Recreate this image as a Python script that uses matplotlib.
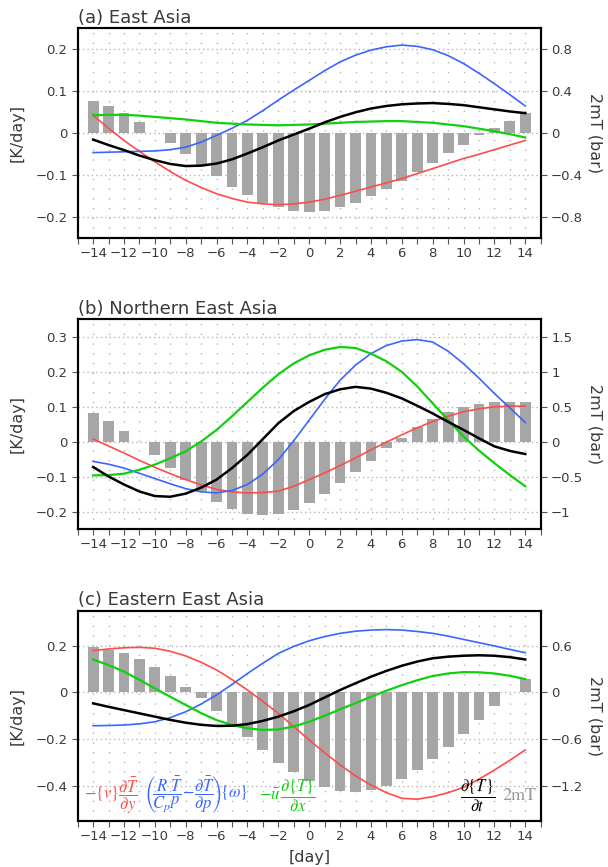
import numpy as np
import matplotlib
matplotlib.use("Agg")
import matplotlib.pyplot as plt
from matplotlib.ticker import MultipleLocator

plt.rcParams['font.family'] = ['DejaVu Sans']
plt.rcParams['mathtext.fontset'] = 'stix'

days = np.arange(-14, 15)

# ---------------- (a) East Asia ----------------
bars_a = [0.31, 0.26, 0.19, 0.105, 0.003, -0.09, -0.20, -0.31, -0.41, -0.51, -0.59, -0.66, -0.70, -0.74,
          -0.75, -0.74, -0.70, -0.66, -0.60, -0.535, -0.45, -0.37, -0.28, -0.19, -0.11, -0.02, 0.05, 0.12, 0.195]
red_a = [0.043, 0.012, -0.017, -0.043, -0.068, -0.091, -0.112, -0.129, -0.144, -0.155, -0.164, -0.168, -0.170, -0.168,
         -0.164, -0.157, -0.148, -0.138, -0.128, -0.118, -0.108, -0.096, -0.084, -0.072, -0.060, -0.050, -0.039, -0.028, -0.017]
blue_a = [-0.046, -0.045, -0.044, -0.043, -0.042, -0.039, -0.033, -0.021, -0.005, 0.012, 0.031, 0.054, 0.079, 0.103,
          0.126, 0.149, 0.170, 0.186, 0.198, 0.206, 0.210, 0.207, 0.199, 0.185, 0.166, 0.143, 0.118, 0.092, 0.065]
black_a = [-0.015, -0.028, -0.040, -0.053, -0.064, -0.073, -0.078, -0.077, -0.072, -0.062, -0.048, -0.033, -0.017, -0.003,
           0.011, 0.026, 0.039, 0.050, 0.059, 0.065, 0.069, 0.071, 0.072, 0.070, 0.067, 0.062, 0.057, 0.052, 0.048]
green_a = [0.043, 0.044, 0.044, 0.042, 0.039, 0.036, 0.033, 0.029, 0.025, 0.023, 0.021, 0.020, 0.019, 0.020,
           0.021, 0.023, 0.025, 0.027, 0.028, 0.029, 0.029, 0.027, 0.025, 0.021, 0.017, 0.011, 0.005, -0.002, -0.010]

# ---------------- (b) Northern East Asia ----------------
bars_b = [0.41, 0.30, 0.155, -0.01, -0.185, -0.375, -0.55, -0.705, -0.855, -0.955, -1.025, -1.05, -1.035, -0.975,
          -0.87, -0.75, -0.595, -0.425, -0.27, -0.09, 0.06, 0.21, 0.33, 0.42, 0.50, 0.535, 0.57, 0.57, 0.575]
red_b = [0.008, -0.012, -0.032, -0.053, -0.073, -0.091, -0.108, -0.123, -0.136, -0.143, -0.146, -0.145, -0.141, -0.127,
         -0.108, -0.089, -0.068, -0.046, -0.023, -0.001, 0.020, 0.040, 0.058, 0.073, 0.086, 0.094, 0.100, 0.102, 0.102]
blue_b = [-0.056, -0.064, -0.075, -0.090, -0.105, -0.120, -0.134, -0.143, -0.146, -0.139, -0.122, -0.092, -0.051, 0.003,
          0.062, 0.121, 0.176, 0.219, 0.252, 0.275, 0.288, 0.292, 0.285, 0.259, 0.223, 0.182, 0.138, 0.097, 0.055]
black_b = [-0.072, -0.099, -0.122, -0.142, -0.155, -0.157, -0.148, -0.131, -0.108, -0.075, -0.037, 0.008, 0.053, 0.088,
           0.114, 0.136, 0.150, 0.157, 0.152, 0.140, 0.124, 0.103, 0.081, 0.057, 0.034, 0.010, -0.013, -0.026, -0.035]
green_b = [-0.096, -0.095, -0.091, -0.080, -0.065, -0.047, -0.027, 0.001, 0.034, 0.073, 0.114, 0.155, 0.193, 0.224,
           0.247, 0.263, 0.271, 0.268, 0.252, 0.230, 0.200, 0.158, 0.110, 0.062, 0.015, -0.025, -0.061, -0.095, -0.127]

# ---------------- (c) Eastern East Asia ----------------
bars_c = [0.587, 0.543, 0.504, 0.43, 0.326, 0.209, 0.074, -0.07, -0.243, -0.426, -0.578, -0.743, -0.904, -1.026,
          -1.143, -1.222, -1.274, -1.283, -1.257, -1.209, -1.113, -1.0, -0.861, -0.70, -0.535, -0.352, -0.174, 0.0, 0.17]
red_c = [0.179, 0.186, 0.191, 0.193, 0.189, 0.176, 0.156, 0.129, 0.096, 0.055, 0.010, -0.039, -0.090, -0.147,
         -0.204, -0.259, -0.311, -0.358, -0.397, -0.430, -0.454, -0.458, -0.447, -0.430, -0.407, -0.372, -0.333, -0.291, -0.247]
blue_c = [-0.143, -0.142, -0.140, -0.135, -0.126, -0.108, -0.083, -0.050, -0.011, 0.034, 0.081, 0.125, 0.167, 0.197,
          0.221, 0.239, 0.253, 0.262, 0.267, 0.269, 0.267, 0.261, 0.253, 0.241, 0.227, 0.213, 0.199, 0.184, 0.170]
black_c = [-0.047, -0.062, -0.076, -0.090, -0.104, -0.118, -0.130, -0.139, -0.144, -0.143, -0.136, -0.122, -0.104, -0.081,
           -0.054, -0.022, 0.010, 0.039, 0.067, 0.092, 0.114, 0.132, 0.146, 0.153, 0.157, 0.159, 0.157, 0.151, 0.141]
green_c = [0.141, 0.117, 0.089, 0.054, 0.017, -0.019, -0.054, -0.089, -0.119, -0.140, -0.154, -0.161, -0.159, -0.146,
           -0.126, -0.100, -0.073, -0.046, -0.019, 0.007, 0.031, 0.052, 0.070, 0.081, 0.087, 0.086, 0.081, 0.071, 0.057]

titles = ["(a) East Asia", "(b) Northern East Asia", "(c) Eastern East Asia"]
left_ticks = [[-0.2, -0.1, 0, 0.1, 0.2], [-0.2, -0.1, 0, 0.1, 0.2, 0.3], [-0.4, -0.2, 0, 0.2]]
left_labels = [["\u22120.2", "\u22120.1", "0", "0.1", "0.2"],
               ["\u22120.2", "\u22120.1", "0", "0.1", "0.2", "0.3"],
               ["\u22120.4", "\u22120.2", "0", "0.2"]]
right_ticks = [[-0.8, -0.4, 0, 0.4, 0.8], [-1, -0.5, 0, 0.5, 1, 1.5], [-1.2, -0.6, 0, 0.6]]
right_labels = [["\u22120.8", "\u22120.4", "0", "0.4", "0.8"],
                ["\u22121", "\u22120.5", "0", "0.5", "1", "1.5"],
                ["\u22121.2", "\u22120.6", "0", "0.6"]]
left_lims = [(-0.25, 0.25), (-0.25, 0.35), (-0.55, 0.35)]
right_lims = [(-1.0, 1.0), (-1.25, 1.75), (-1.65, 1.05)]

bars = [bars_a, bars_b, bars_c]
reds = [red_a, red_b, red_c]
blues = [blue_a, blue_b, blue_c]
blacks = [black_a, black_b, black_c]
greens = [green_a, green_b, green_c]

RED = '#ff4b4b'
BLUE = '#3a66ff'
GREEN = '#10d010'
BAR = '#a6a6a6'
TXT = '#3a3a3a'
GRID = '#b4b4b4'

W, H = 608, 867
fig = plt.figure(figsize=(W / 100, H / 100), dpi=100)

left_px, right_px = 77.7, 540.7
tops = [28.3, 319.3, 610.7]
height_px = 210.0

for i in range(3):
    rect = [left_px / W, 1 - (tops[i] + height_px) / H, (right_px - left_px) / W, height_px / H]
    ax = fig.add_axes(rect)
    ax2 = ax.twinx()

    # bars (right axis)
    ax2.bar(days, bars[i], width=0.7, color=BAR, zorder=2)
    ax2.set_ylim(*right_lims[i])
    ax2.set_yticks(right_ticks[i])
    ax2.set_yticklabels(right_labels[i])

    # dotted grid on the twin (behind bars)
    ax2.set_xlim(-15, 15)
    for xv in days:
        ax2.axvline(xv, color=GRID, lw=1.0, ls=(0, (1, 6)), zorder=0)
    for yv in right_ticks[i]:
        ax2.axhline(yv, color=GRID, lw=1.0, ls=(0, (1, 2.2)), zorder=0)

    # lines (left axis), drawn on top
    ax.set_zorder(ax2.get_zorder() + 1)
    ax.patch.set_visible(False)
    ax.plot(days, reds[i], color=RED, lw=1.2, zorder=3)
    ax.plot(days, blues[i], color=BLUE, lw=1.2, zorder=3)
    ax.plot(days, greens[i], color=GREEN, lw=1.6, zorder=3)
    ax.plot(days, blacks[i], color='black', lw=1.8, zorder=4)

    ax.set_xlim(-15, 15)
    ax.set_ylim(*left_lims[i])
    ax.set_yticks(left_ticks[i])
    ax.set_yticklabels(left_labels[i])
    ax.xaxis.set_minor_locator(MultipleLocator(1))
    ax.set_xticks(np.arange(-14, 15, 2))
    ax.set_xticklabels([("\u2212%d" % -v) if v < 0 else "%d" % v for v in np.arange(-14, 15, 2)])

    for a in (ax, ax2):
        for s in a.spines.values():
            s.set_linewidth(1.5)
            s.set_color('black')
        a.tick_params(axis='both', which='both', direction='out', colors=TXT, labelsize=9.5)
        a.tick_params(axis='both', which='major', length=4, width=0.8, color='#555555')
        a.tick_params(axis='x', which='minor', length=4, width=0.8, color='#555555')
    ax2.tick_params(axis='x', which='both', bottom=False, labelbottom=False)
    ax.tick_params(axis='x', pad=2.5)

    ax.set_title(titles[i], loc='left', fontsize=13, color=TXT, pad=4)
    ax.set_ylabel('[K/day]', fontsize=11.5, color=TXT, va='center')
    ax.yaxis.set_label_coords(-0.13, 0.5)
    ax2.set_ylabel('2mT (bar)', fontsize=11.5, color=TXT, rotation=270, va='center')
    ax2.yaxis.set_label_coords(1.117, 0.5)

    if i == 2:
        ax.set_xlabel('[day]', fontsize=11.5, color=TXT, labelpad=5)
        ty = 0.12
        fs = 12
        ax.text(0.013, ty, r'$-\{v\}\dfrac{\partial\bar{T}}{\partial y}$', color=RED, fontsize=fs,
                transform=ax.transAxes, va='center', ha='left', zorder=6)
        ax.text(0.143, ty,
                r'$\left(\!\dfrac{R}{C_p}\!\dfrac{\bar{T}}{p}\!-\!\dfrac{\partial\bar{T}}{\partial p}\!\right)\!\{\omega\}$',
                color=BLUE, fontsize=fs, transform=ax.transAxes, va='center', ha='left', zorder=6)
        ax.text(0.392, ty, r'$-\bar{u}\,\dfrac{\partial\{T\}}{\partial x}$', color=GREEN, fontsize=fs,
                transform=ax.transAxes, va='center', ha='left', zorder=6)
        ax.text(0.826, ty, r'$\dfrac{\partial\{T\}}{\partial t}$', color='black', fontsize=fs,
                transform=ax.transAxes, va='center', ha='left', zorder=6)
        ax.text(0.918, ty, '2mT', color='#999999', fontsize=13, family='STIXGeneral',
                transform=ax.transAxes, va='center', ha='left', zorder=6)

fig.savefig('out.png', dpi=100)
